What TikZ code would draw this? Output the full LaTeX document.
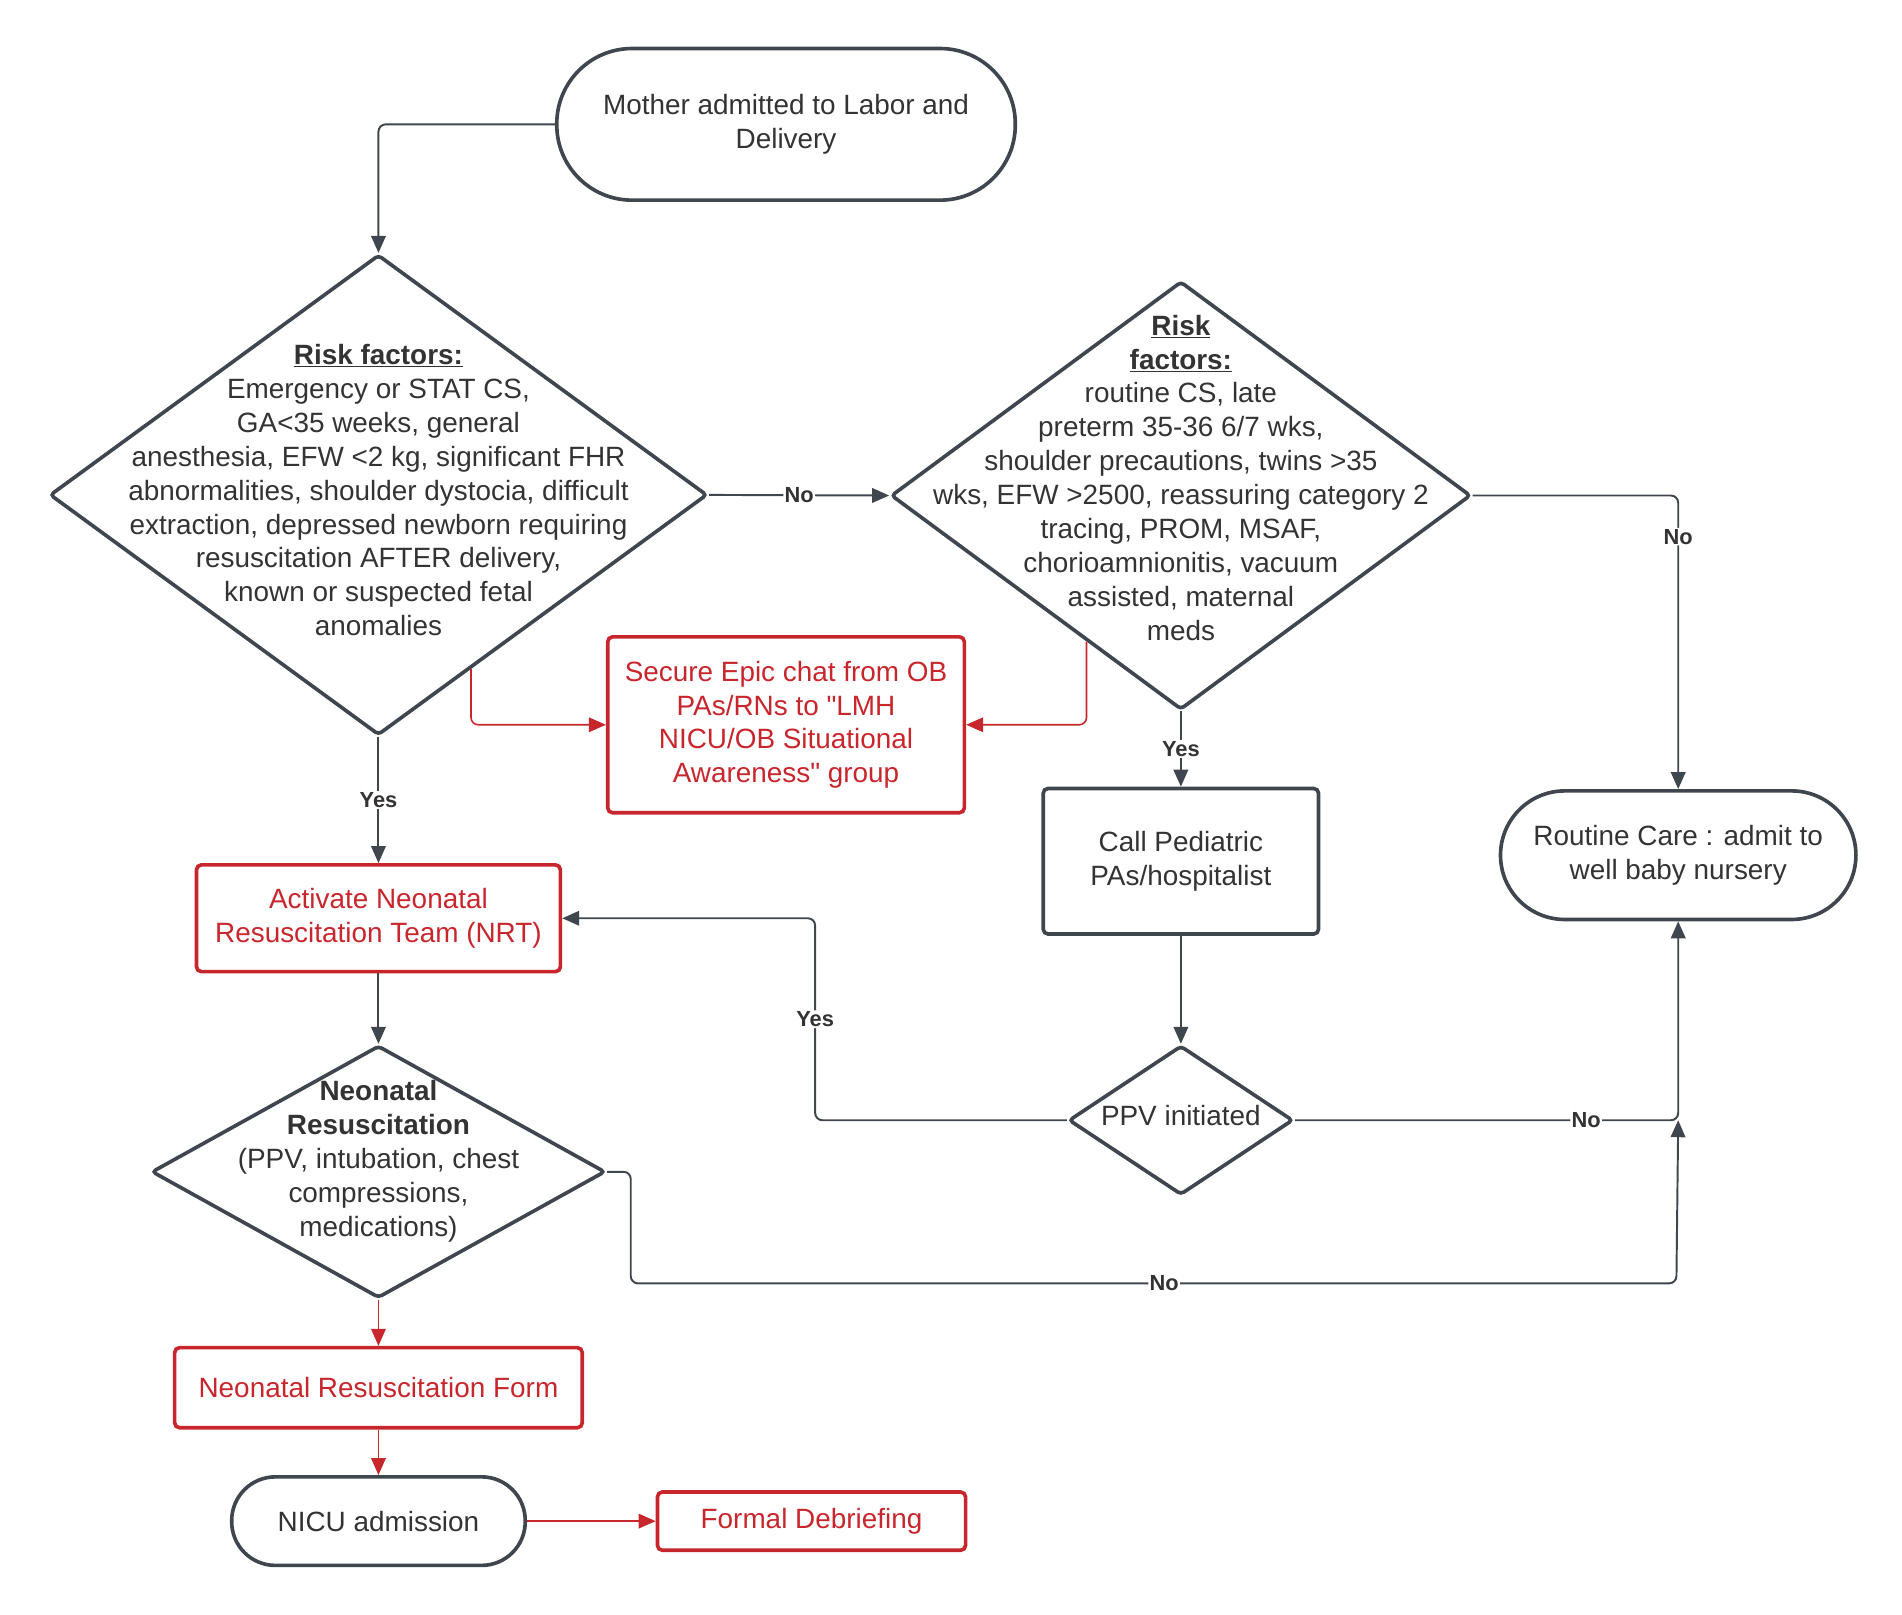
\documentclass[tikz,border=0pt]{standalone}
\usepackage{fontspec}
\setmainfont{Liberation Sans}[Ligatures=TeXOff]
\usetikzlibrary{shapes.geometric,arrows.meta,calc}
\definecolor{ink}{HTML}{333333}
\definecolor{edgec}{HTML}{40464D}
\definecolor{redc}{HTML}{C8262D}
\begin{document}
\begin{tikzpicture}[x=1pt,y=-1pt,
  font=\fontsize{23}{28}\selectfont, text=ink,
  box/.style={draw=edgec, line width=3pt, rounded corners=4pt, align=center, inner sep=0pt},
  redbox/.style={box, draw=redc, text=redc},
  term/.style={draw=edgec, line width=3pt, align=center, inner sep=0pt, rounded corners=#1},
  dia/.style={diamond, draw=edgec, line width=3pt, inner sep=0pt, rounded corners=3pt},
  txt/.style={align=center, inner sep=0pt},
  conn/.style={draw=edgec, line width=1.6pt, -{Triangle[length=14pt,width=12pt]}, rounded corners=6pt},
  redconn/.style={conn, draw=redc, line width=1.3pt},
  lbl/.style={fill=white, font=\fontsize{18}{20}\selectfont\bfseries, inner sep=1pt, text=ink}
]
\useasboundingbox (0,0) rectangle (1568,1331);

% nodes
\node[term=62pt, minimum width=378pt, minimum height=125pt] (m) at (648,102.5) {Mother admitted to Labor and\\Delivery};

\node[dia, minimum width=542pt, minimum height=396pt] (d1) at (312,408) {};
\node[txt] (d1t) at (312,404) {\underline{\textbf{Risk factors:}}\\Emergency or STAT CS,\\GA<35 weeks, general\\anesthesia, EFW <2 kg, significant FHR\\abnormalities, shoulder dystocia, difficult\\extraction, depressed newborn requiring\\resuscitation AFTER delivery,\\known or suspected fetal\\anomalies};

\node[dia, minimum width=478pt, minimum height=353pt] (d2) at (973.5,408.5) {};
\node[txt] (d2t) at (973.5,394) {\underline{\textbf{Risk}}\\\underline{\textbf{factors:}}\\routine CS, late\\preterm 35-36 6/7 wks,\\shoulder precautions, twins >35\\wks, EFW >2500, reassuring category 2\\tracing, PROM, MSAF,\\chorioamnionitis, vacuum\\assisted, maternal\\meds};

\node[redbox, minimum width=294pt, minimum height=145pt] (se) at (648,597.5) {Secure Epic chat from OB\\PAs/RNs to "LMH\\NICU/OB Situational\\Awareness" group};

\node[box, minimum width=227pt, minimum height=120pt] (cp) at (973.5,710) {Call Pediatric\\PAs/hospitalist};

\node[term=53pt, minimum width=293pt, minimum height=106pt] (rc) at (1383.5,705) {Routine Care : admit to\\well baby nursery};

\node[redbox, minimum width=300pt, minimum height=88pt] (nrt) at (312,757) {Activate Neonatal\\Resuscitation Team (NRT)};

\node[dia, minimum width=185pt, minimum height=123pt] (ppv) at (973.5,923.5) {};
\node[txt] (ppvt) at (973.5,920) {PPV initiated};

\node[dia, minimum width=374pt, minimum height=208pt] (nrd) at (312,966) {};
\node[txt] (nrdt) at (312,957) {\textbf{Neonatal}\\\textbf{Resuscitation}\\(PPV, intubation, chest\\compressions,\\medications)};

\node[redbox, minimum width=336pt, minimum height=66pt] (nrf) at (312,1144) {Neonatal Resuscitation Form};

\node[term=36pt, minimum width=242pt, minimum height=73pt] (nicu) at (312,1254) {NICU admission};

\node[redbox, minimum width=254pt, minimum height=48pt] (fd) at (669,1254) {Formal Debriefing};

% helper coordinates
\coordinate (r1) at ($(d1.south)!0.28!(d1.east)$);
\coordinate (r2) at ($(d2.south)!0.3235!(d2.west)$);
\coordinate (yesx) at (672,757);
\coordinate (nojoin) at (rc.south |- ppv.east);
\coordinate (c1) at (520,966);
\coordinate (c2) at (1382,1058);

% connectors
\draw[conn] (m.west) -| (d1.north);
\draw[conn] (d1.east) -- node[lbl]{No} (d2.west);
\draw[conn] (d2.east) -| node[lbl, pos=0.57]{No} (rc.north);
\draw[conn] (d1.south) -- node[lbl]{Yes} (nrt.north);
\draw[conn] (d2.south) -- node[lbl]{Yes} (cp.north);
\draw[redconn] (r1) |- (se.west);
\draw[redconn] (r2) |- (se.east);
\draw[conn] (nrt.south) -- (nrd.north);
\draw[conn] (cp.south) -- (ppv.north);
\draw[conn] (ppv.west) -| node[lbl, pos=0.75]{Yes} (yesx) -- (nrt.east);
\draw[conn] (ppv.east) -| node[lbl, pos=0.38]{No} (rc.south);
\draw[conn] (nrd.east) -- (c1) |- node[lbl, pos=0.755]{No} (c2) -- (nojoin);
\draw[redconn] (nrd.south) -- (nrf.north);
\draw[redconn] (nrf.south) -- (nicu.north);
\draw[redconn] (nicu.east) -- (fd.west);
\end{tikzpicture}
\end{document}
